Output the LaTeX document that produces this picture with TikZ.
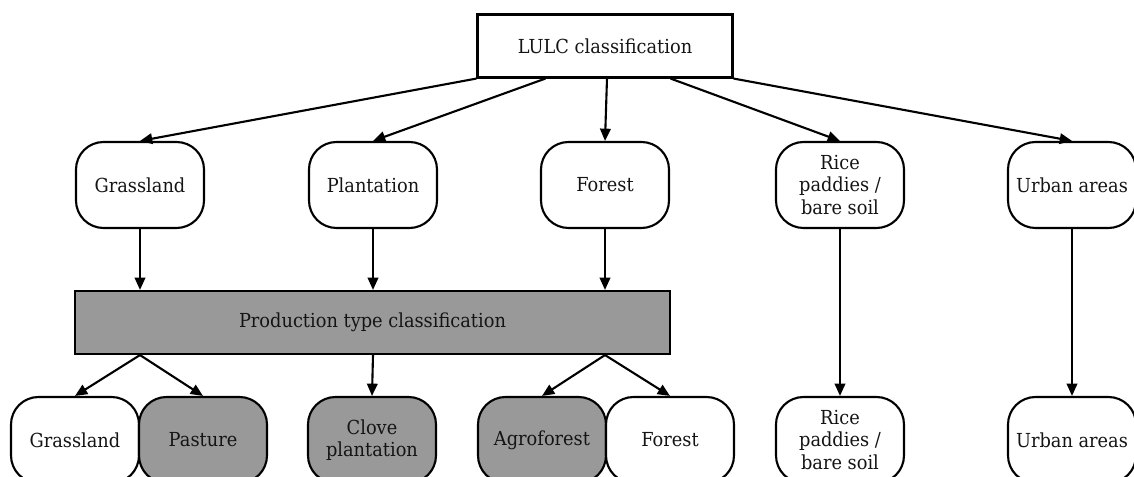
\documentclass[tikz,border=0pt]{standalone}
\usepackage{fontspec}
\setmainfont{DejaVu Serif}[FakeStretch=0.92]
\usetikzlibrary{arrows.meta, positioning, calc}
\usepackage{xcolor}
\definecolor{PG}{RGB}{153,153,153}
\definecolor{DG}{RGB}{20,20,20}

\begin{document}
\begin{tikzpicture}[
  lulcbox/.style={draw=black, line width=1.2pt, minimum width=5.10cm,
                  minimum height=1.26cm, align=center, font=\fontsize{11}{12.6}\selectfont, text=DG},
  cls/.style={draw=black, line width=1.2pt, rounded corners=0.55cm,
              minimum width=2.56cm, minimum height=1.72cm, inner sep=0pt,
              align=center, font=\fontsize{11}{12.6}\selectfont, text=DG},
  prodbox/.style={draw=black, fill=PG, line width=1.2pt, minimum width=11.90cm,
                  minimum height=1.26cm, align=center, font=\fontsize{11}{12.6}\selectfont, text=DG},
  arr/.style={line width=1.2pt, -{Triangle[length=7pt,width=6pt]}}
]
\useasboundingbox (0,0) rectangle (22.68,-9.54);

% Top level
\node[lulcbox] (lulc) at (12.10,-0.92) {LULC classification};

% LULC classes
\foreach \n/\x/\txt in {gr/2.80/Grassland, pl/7.46/Plantation, fo/12.10/Forest,
                        ri/16.80/{Rice\\paddies /\\bare soil}, ur/21.44/Urban areas}
  { \node[cls] (t\n) at (\x,-3.70) {\txt}; }

% Production type step
\node[prodbox] (prod) at (7.45,-6.45) {Production type classification};

% Final classes (white / grey)
\foreach \n/\x/\f/\txt in {gr/1.50/white/Grassland, pa/4.06/PG/Pasture,
                           cl/7.44/PG/{Clove\\plantation}, ag/10.84/PG/Agroforest,
                           fo/13.40/white/Forest, ri/16.80/white/{Rice\\paddies /\\bare soil},
                           ur/21.44/white/Urban areas}
  { \node[cls, fill=\f] (b\n) at (\x,-8.80) {\txt}; }

% LULC -> classes
\draw[arr] (lulc.south west) -- (tgr.north);
\draw[arr] ([xshift=1.38cm]lulc.south west) -- (tpl.north);
\draw[arr] ([xshift=0.04cm]lulc.south) -- (tfo.north);
\draw[arr] ([xshift=-1.26cm]lulc.south east) -- (tri.north);
\draw[arr] (lulc.south east) -- (tur.north);

% classes -> production type / final
\foreach \n in {gr,pl,fo}
  { \draw[arr] (t\n.south) -- (t\n.south |- prod.north); }
\draw[arr] (tri.south) -- (bri.north);
\draw[arr] (tur.south) -- (bur.north);

% production type -> final
\draw[arr] (prod.south -| tgr.south) -- (bgr.north);
\draw[arr] (prod.south -| tgr.south) -- (bpa.north);
\draw[arr] (prod.south -| tpl.south) -- (bcl.north);
\draw[arr] (prod.south -| tfo.south) -- (bag.north);
\draw[arr] (prod.south -| tfo.south) -- (bfo.north);
\end{tikzpicture}
\end{document}
